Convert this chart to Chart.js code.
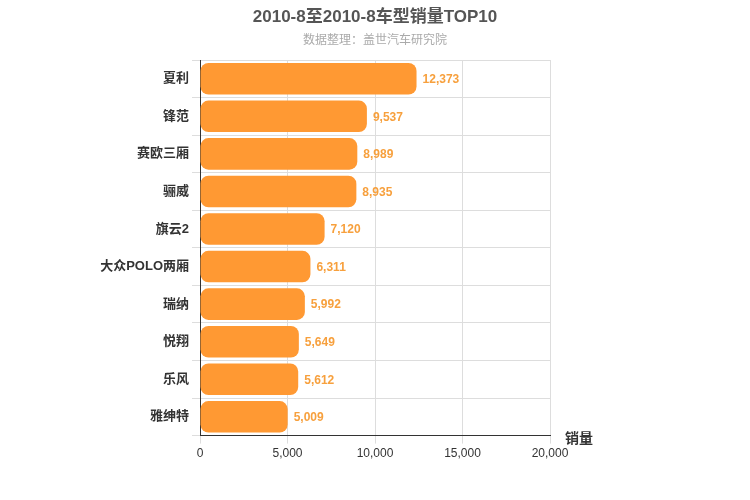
<!DOCTYPE html>
<html><head><meta charset="utf-8">
<script src="https://cdn.jsdelivr.net/npm/chart.js@4"></script>
<style>body{margin:0;background:#fff}#w{width:750px;height:500px}</style>
</head><body><div id="w"><canvas id="c"></canvas></div>
<script>
const categories=["夏利","锋范","赛欧三厢","骊威","旗云2","大众POLO两厢","瑞纳","悦翔","乐风","雅绅特"];
const sales=[12373,9537,8989,8935,7120,6311,5992,5649,5612,5009];
const xTicks=[0,5000,10000,15000,20000];
const F='"Helvetica Neue",Arial,"Noto Sans CJK SC",sans-serif';
const labels={id:'lbl',afterDatasetsDraw(ch){const c=ch.ctx;c.save();c.font='bold 12px '+F;c.fillStyle='#F7A03D';c.textBaseline='middle';
ch.getDatasetMeta(0).data.forEach((b,i)=>{c.fillText(sales[i].toLocaleString('en-US'),b.x+6,b.y+1);});
c.fillStyle='#333';c.font='bold 14px '+F;c.fillText('销量',565,439);
c.textAlign='center';c.fillStyle='#555';c.font='bold 17px '+F;c.fillText('2010-8至2010-8车型销量TOP10',375,17);
c.fillStyle='#aaa';c.font='12px '+F;c.fillText('数据整理：盖世汽车研究院',375,41);c.restore();}};
new Chart(document.getElementById('c'),{type:'bar',
data:{labels:categories,datasets:[{data:sales,backgroundColor:'#FF9933',borderRadius:8,borderSkipped:false,barPercentage:0.84,categoryPercentage:1}]},
options:{indexAxis:'y',responsive:true,maintainAspectRatio:false,animation:false,
layout:{padding:{left:0,right:200,top:60,bottom:36}},
plugins:{legend:{display:false},tooltip:{enabled:false}},
scales:{x:{min:0,max:20000,afterBuildTicks(a){a.ticks=xTicks.map(v=>({value:v}));},
ticks:{color:'#333',font:{size:12,family:F},callback:v=>v.toLocaleString('en-US')},grid:{color:'#ddd',drawTicks:true},border:{color:'#333'}},
y:{ticks:{color:'#333',font:{size:13,weight:'bold',family:F}},grid:{color:'#ddd'},border:{color:'#333'},afterFit(s){s.width=200;}}}},
plugins:[labels]});
</script></body></html>
